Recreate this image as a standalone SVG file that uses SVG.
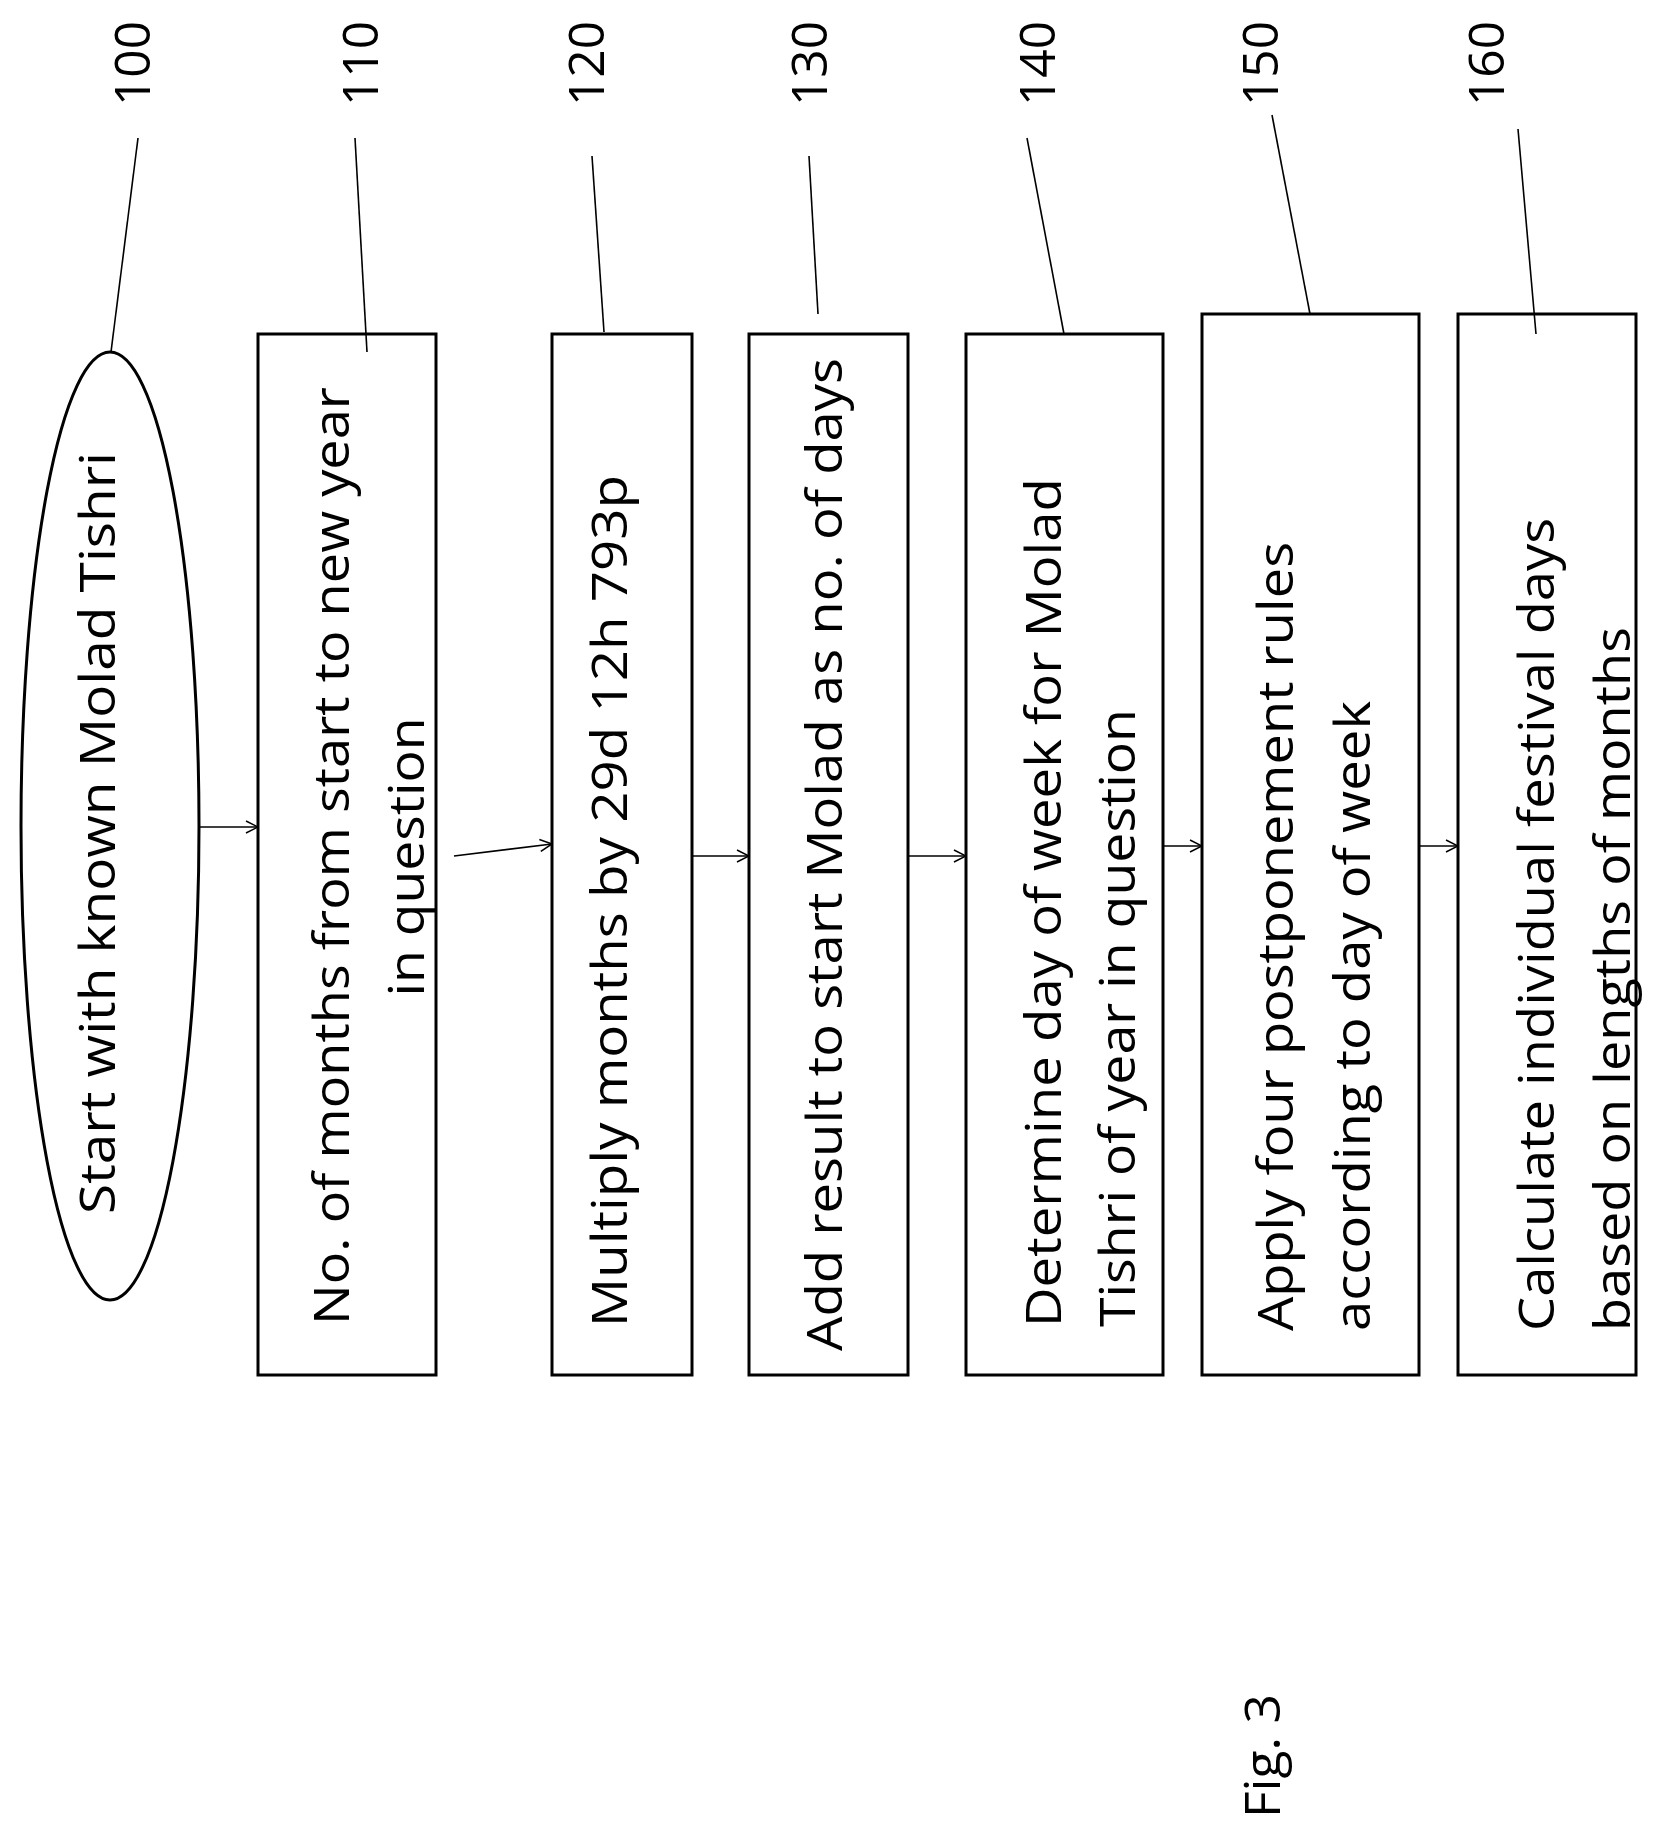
<svg xmlns="http://www.w3.org/2000/svg" width="1658" height="1839" viewBox="0 0 1658 1839">
<defs>
<marker id="ah" markerWidth="14" markerHeight="14" refX="13" refY="7" orient="auto" markerUnits="userSpaceOnUse"><path d="M1,1 L13,7 L1,13" fill="none" stroke="#000" stroke-width="1.5"/></marker>
</defs>
<style>
.n{fill:#fff;stroke:#000;stroke-width:3}
.t{font-family:"Open Sans","Liberation Sans",sans-serif;font-size:50px;fill:#000}
.c line{stroke:#000;stroke-width:1.6}
.c .a{marker-end:url(#ah)}
</style>
<rect width="1658" height="1839" fill="#fff"/>
<g id="n100"><ellipse class="n" cx="110" cy="826" rx="89" ry="474"/>
<text class="t" transform="translate(115,1214) rotate(-90)" textLength="762" lengthAdjust="spacingAndGlyphs">Start with known Molad Tishri</text></g>
<g id="n110"><rect class="n" x="258" y="334" width="178" height="1041"/>
<text class="t" text-anchor="middle" transform="translate(349,856) rotate(-90)" textLength="938" lengthAdjust="spacingAndGlyphs">No. of months from start to new year</text>
<text class="t" text-anchor="middle" transform="translate(424,857) rotate(-90)" textLength="279" lengthAdjust="spacingAndGlyphs">in question</text></g>
<g id="n120"><rect class="n" x="552" y="334" width="140" height="1041"/>
<text class="t" transform="translate(627,1327) rotate(-90)" textLength="852" lengthAdjust="spacingAndGlyphs">Multiply months by 29d 12h 793p</text></g>
<g id="n130"><rect class="n" x="749" y="334" width="159" height="1041"/>
<text class="t" transform="translate(842,1351) rotate(-90)" textLength="993" lengthAdjust="spacingAndGlyphs">Add result to start Molad as no. of days</text></g>
<g id="n140"><rect class="n" x="966" y="334" width="197" height="1041"/>
<text class="t" transform="translate(1061,1327) rotate(-90)" textLength="849" lengthAdjust="spacingAndGlyphs">Determine day of week for Molad</text>
<text class="t" transform="translate(1135,1327) rotate(-90)" textLength="618" lengthAdjust="spacingAndGlyphs">Tishri of year in question</text></g>
<g id="n150"><rect class="n" x="1202" y="314" width="217" height="1061"/>
<text class="t" transform="translate(1293,1331) rotate(-90)" textLength="789" lengthAdjust="spacingAndGlyphs">Apply four postponement rules</text>
<text class="t" transform="translate(1370,1331) rotate(-90)" textLength="630" lengthAdjust="spacingAndGlyphs">according to day of week</text></g>
<g id="n160"><rect class="n" x="1458" y="314" width="178" height="1061"/>
<text class="t" transform="translate(1554,1331) rotate(-90)" textLength="813" lengthAdjust="spacingAndGlyphs">Calculate individual festival days</text>
<text class="t" transform="translate(1630,1331) rotate(-90)" textLength="704" lengthAdjust="spacingAndGlyphs">based on lengths of months</text></g>
<g id="labels">
<text class="t" transform="translate(150,106) rotate(-90)" textLength="85" lengthAdjust="spacingAndGlyphs">100</text>
<text class="t" transform="translate(378,106) rotate(-90)" textLength="85" lengthAdjust="spacingAndGlyphs">110</text>
<text class="t" transform="translate(604,106) rotate(-90)" textLength="85" lengthAdjust="spacingAndGlyphs">120</text>
<text class="t" transform="translate(827,106) rotate(-90)" textLength="85" lengthAdjust="spacingAndGlyphs">130</text>
<text class="t" transform="translate(1055,106) rotate(-90)" textLength="85" lengthAdjust="spacingAndGlyphs">140</text>
<text class="t" transform="translate(1278,106) rotate(-90)" textLength="85" lengthAdjust="spacingAndGlyphs">150</text>
<text class="t" transform="translate(1504,106) rotate(-90)" textLength="85" lengthAdjust="spacingAndGlyphs">160</text>
<text class="t" transform="translate(1280,1818) rotate(-90)" textLength="124" lengthAdjust="spacingAndGlyphs">Fig. 3</text>
</g>
<g id="connectors" class="c">
<line class="a" x1="199" y1="827" x2="258" y2="827"/>
<line class="a" x1="454" y1="856" x2="552" y2="844"/>
<line class="a" x1="692" y1="856" x2="749" y2="856"/>
<line class="a" x1="908" y1="856" x2="966" y2="856"/>
<line class="a" x1="1163" y1="846" x2="1202" y2="846"/>
<line class="a" x1="1419" y1="846" x2="1458" y2="846"/>
<line x1="138" y1="138" x2="111" y2="352"/>
<line x1="355" y1="138" x2="367" y2="352"/>
<line x1="592" y1="156" x2="604" y2="332"/>
<line x1="809" y1="156" x2="818" y2="314"/>
<line x1="1027" y1="138" x2="1064" y2="334"/>
<line x1="1272" y1="115" x2="1310" y2="314"/>
<line x1="1518" y1="129" x2="1536" y2="334"/>
</g>
</svg>
